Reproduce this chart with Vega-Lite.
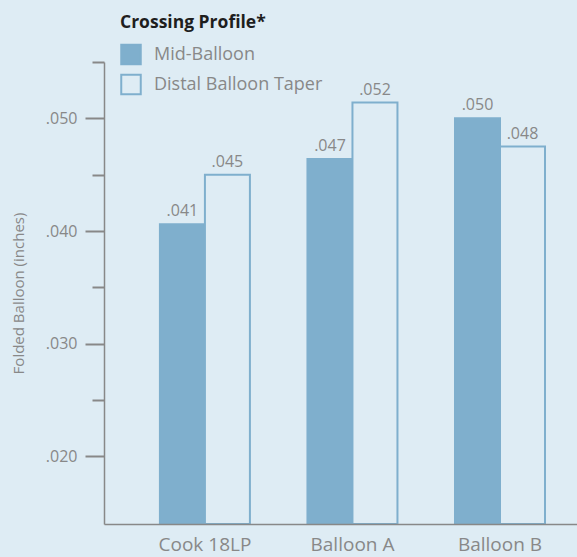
{
  "$schema": "https://vega.github.io/schema/vega-lite/v6.json",
  "width": 473,
  "height": 462,
  "autosize": {"type": "none"},
  "padding": {"left": 104, "top": 62, "right": 0, "bottom": 33},
  "background": "#deecf4",
  "config": {
    "view": {"stroke": null},
    "font": "Open Sans"
  },
  "data": {
    "values": [
      {"device": "Cook 18LP", "profile": "Mid-Balloon", "value": 0.0406, "base": 0.014, "label": ".041"},
      {"device": "Cook 18LP", "profile": "Distal Balloon Taper", "value": 0.0450, "base": 0.014, "label": ".045"},
      {"device": "Balloon A", "profile": "Mid-Balloon", "value": 0.0464, "base": 0.014, "label": ".047"},
      {"device": "Balloon A", "profile": "Distal Balloon Taper", "value": 0.0514, "base": 0.014, "label": ".052"},
      {"device": "Balloon B", "profile": "Mid-Balloon", "value": 0.0500, "base": 0.014, "label": ".050"},
      {"device": "Balloon B", "profile": "Distal Balloon Taper", "value": 0.0475, "base": 0.014, "label": ".048"}
    ]
  },
  "encoding": {
    "x": {
      "field": "device",
      "type": "nominal",
      "sort": ["Cook 18LP", "Balloon A", "Balloon B"],
      "scale": {"paddingInner": 0.39, "paddingOuter": 0.298, "align": 0.636},
      "axis": {
        "title": null,
        "labelAngle": 0,
        "ticks": false,
        "labelFontSize": 19,
        "labelColor": "#888888",
        "labelPadding": 11,
        "domainColor": "#888888",
        "domainWidth": 1.5,
        "zindex": 1
      }
    },
    "xOffset": {
      "field": "profile",
      "type": "nominal",
      "sort": ["Mid-Balloon", "Distal Balloon Taper"]
    },
    "y": {
      "field": "value",
      "type": "quantitative",
      "scale": {"domain": [0.014, 0.055], "zero": false, "nice": false},
      "axis": {
        "title": "Folded Balloon (inches)",
        "titleFontSize": 15,
        "titleFontWeight": "normal",
        "titleColor": "#888888",
        "titlePadding": 19,
        "values": [0.02, 0.025, 0.03, 0.035, 0.04, 0.045, 0.05, 0.055],
        "labelExpr": "(round(datum.value*1000) % 10 == 0) ? substring(format(datum.value, '.3f'), 1) : ''",
        "labelFontSize": 16,
        "labelColor": "#888888",
        "labelPadding": 8,
        "tickColor": "#888888",
        "tickWidth": 2,
        "tickSize": {"condition": {"test": "round(datum.value*1000) % 10 == 0", "value": 19}, "value": 12},
        "domainColor": "#888888",
        "domainWidth": 1.5,
        "grid": false
      }
    }
  },
  "layer": [
    {
      "mark": {"type": "bar", "strokeWidth": 2},
      "encoding": {
        "y2": {"field": "base"},
        "fill": {
          "field": "profile",
          "type": "nominal",
          "scale": {"domain": ["Mid-Balloon", "Distal Balloon Taper"], "range": ["#7fafcd", "#deecf4"]},
          "legend": {
            "title": "Crossing Profile*",
            "orient": "none",
            "legendX": 16,
            "legendY": -48,
            "titleFontSize": 17.5,
            "titleFontWeight": "bold",
            "titleColor": "#1e1e1e",
            "titlePadding": 12,
            "titleLimit": 300,
            "labelFontSize": 18,
            "labelColor": "#888888",
            "labelOffset": 12,
            "labelLimit": 300,
            "symbolType": "square",
            "symbolSize": 380,
            "symbolStrokeWidth": 2,
            "rowPadding": 2
          }
        },
        "stroke": {
          "field": "profile",
          "type": "nominal",
          "scale": {"domain": ["Mid-Balloon", "Distal Balloon Taper"], "range": ["#7fafcd", "#7fafcd"]},
          "legend": null
        }
      }
    },
    {
      "mark": {"type": "text", "dy": -5, "baseline": "bottom", "fontSize": 16, "color": "#888888"},
      "encoding": {"text": {"field": "label"}}
    }
  ]
}
